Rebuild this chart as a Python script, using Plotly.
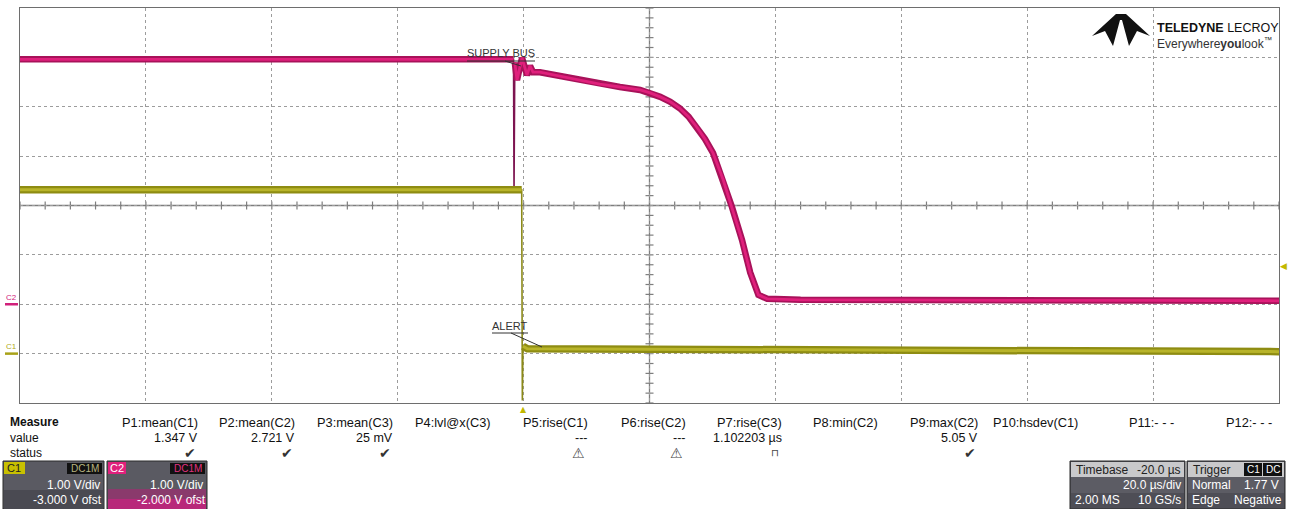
import plotly.graph_objects as go

# ---------------- data (time in µs, values in volts) ----------------
# C2 : SUPPLY BUS (1.00 V/div, -2.000 V offset)
c2_t = [-80, -60, -40, -20, -1.6, -1.52, -1.4, -1.05, -0.25, 0.54, 1.02, 1.49, 2.6, 5.8, 9.0, 12.1,
        15.3, 18.5, 20.1, 21.7, 23.3, 24.8, 26.2, 27.5, 28.8, 30.1, 31.7, 33.1, 34.7, 36.0, 37.3,
        38.7, 44.0, 60.0, 75.7, 100.0, 120.0]
c2_v = [4.96, 4.96, 4.96, 4.96, 4.96, 2.32, 4.90, 4.54, 4.99, 4.64, 4.83, 4.70, 4.70, 4.62, 4.54, 4.46,
        4.40, 4.34, 4.28, 4.20, 4.10, 3.97, 3.80, 3.59, 3.35, 3.06, 2.52, 1.97, 1.30, 0.64, 0.19,
        0.11, 0.09, 0.09, 0.08, 0.08, 0.07]
c2_spike_idx = [5]          # fast glitch sample (drawn as a thin line only)

# C1 : ALERT (1.00 V/div, -3.000 V offset)
c1_t = [-80, -40, -0.3, -0.2, -0.1, 0.05, 0.6, 20, 60, 90, 120]
c1_v = [3.32, 3.32, 3.32, -0.95, 0.15, 0.14, 0.10, 0.09, 0.07, 0.05, 0.04]
c1_edge_idx = [3]

trigger_level_v = 1.77      # on C1
trigger_time_us = 0.0

# Scope settings
time_per_div = 20.0
time_center = 20.0
c1_vdiv, c1_offset = 1.0, -3.0
c2_vdiv, c2_offset = 1.0, -2.0

# Measurement table
meas_headers = ["P1:mean(C1)", "P2:mean(C2)", "P3:mean(C3)", "P4:lvl@x(C3)", "P5:rise(C1)",
                "P6:rise(C2)", "P7:rise(C3)", "P8:min(C2)", "P9:max(C2)", "P10:hsdev(C1)",
                "P11:- - -", "P12:- - -"]
meas_values = ["1.347 V", "2.721 V", "25 mV", "", "---", "---", "1.102203 µs", "", "5.05 V", "", "", ""]
meas_status = ["✔", "✔", "✔", "", "⚠", "⚠", "⊓", "", "✔", "", "", ""]

# ---------------- layout geometry (pixels) ----------------
W, H = 1290, 509
L, R, T, B = 20, 1279, 8, 403
FONT = "Arial, Liberation Sans, sans-serif"


def PX(x):
    return (x - L) / (R - L)


def PY(y):
    return (B - y) / (B - T)


x_rng = [time_center - 5 * time_per_div, time_center + 5 * time_per_div]
c2_rng = [-c2_offset - 4 * c2_vdiv, -c2_offset + 4 * c2_vdiv]
c1_rng = [-c1_offset - 4 * c1_vdiv, -c1_offset + 4 * c1_vdiv]

fig = go.Figure()


def band(vals, skip):
    return [None if i in skip else v for i, v in enumerate(vals)]


# C2 traces
fig.add_trace(go.Scatter(x=c2_t, y=c2_v, mode="lines", line=dict(color="#7d1450", width=1.6),
                         yaxis="y", showlegend=False, hoverinfo="skip"))
fig.add_trace(go.Scatter(x=c2_t, y=band(c2_v, c2_spike_idx), mode="lines", connectgaps=False,
                         line=dict(color="#a8125a", width=6.5), yaxis="y", showlegend=False, hoverinfo="skip"))
fig.add_trace(go.Scatter(x=c2_t, y=band(c2_v, c2_spike_idx), mode="lines", connectgaps=False,
                         line=dict(color="#e0207c", width=2.8), yaxis="y", showlegend=False, hoverinfo="skip"))
# C1 traces
fig.add_trace(go.Scatter(x=c1_t, y=c1_v, mode="lines", line=dict(color="#8c8a18", width=1.6),
                         yaxis="y2", showlegend=False, hoverinfo="skip"))
fig.add_trace(go.Scatter(x=c1_t, y=band(c1_v, c1_edge_idx), mode="lines", connectgaps=False,
                         line=dict(color="#8e8c12", width=7.5), yaxis="y2", showlegend=False, hoverinfo="skip"))
fig.add_trace(go.Scatter(x=c1_t, y=band(c1_v, c1_edge_idx), mode="lines", connectgaps=False,
                         line=dict(color="#b8b42a", width=3), yaxis="y2", showlegend=False, hoverinfo="skip"))

shapes = []
annotations = []

# center crosshair with minor ticks
xc, yc = time_center, -c2_offset
shapes.append(dict(type="line", xref="x", yref="y", x0=x_rng[0], x1=x_rng[1], y0=yc, y1=yc,
                   line=dict(color="#7e7e7e", width=1.3), layer="below"))
shapes.append(dict(type="line", xref="x", yref="y", x0=xc, x1=xc, y0=c2_rng[0], y1=c2_rng[1],
                   line=dict(color="#7e7e7e", width=1.3), layer="below"))
px_per_us = (R - L) / (x_rng[1] - x_rng[0])
px_per_v = (B - T) / (c2_rng[1] - c2_rng[0])
tick_half_v = 4 / px_per_v
tick_half_us = 4 / px_per_us
for k in range(51):
    xt = x_rng[0] + k * time_per_div / 5
    shapes.append(dict(type="line", xref="x", yref="y", x0=xt, x1=xt, y0=yc - tick_half_v, y1=yc + tick_half_v,
                       line=dict(color="#7e7e7e", width=1.2), layer="below"))
for k in range(41):
    yt = c2_rng[0] + k * c2_vdiv / 5
    shapes.append(dict(type="line", xref="x", yref="y", x0=xc - tick_half_us, x1=xc + tick_half_us, y0=yt, y1=yt,
                       line=dict(color="#7e7e7e", width=1.2), layer="below"))


def line_px(x0, y0, x1, y1, color="#333", width=1):
    shapes.append(dict(type="line", xref="paper", yref="paper", x0=PX(x0), y0=PY(y0), x1=PX(x1), y1=PY(y1),
                       line=dict(color=color, width=width)))


def rect_px(x0, y0, x1, y1, fill, line="rgba(0,0,0,0)", lw=0):
    shapes.append(dict(type="rect", xref="paper", yref="paper", x0=PX(x0), y0=PY(y0), x1=PX(x1), y1=PY(y1),
                       fillcolor=fill, line=dict(color=line, width=lw), layer="above"))


def txt(x, y, s, anchor="left", size=12, color="#222", family=FONT):
    annotations.append(dict(xref="paper", yref="paper", x=PX(x), y=PY(y), text=s, showarrow=False,
                            xanchor=anchor, yanchor="middle", font=dict(family=family, size=size, color=color)))


# waveform labels
txt(501, 53, "SUPPLY BUS", anchor="center", size=11, color="#333")
line_px(467, 61, 535, 61)
line_px(505, 61, 521, 66)
txt(510, 326, "ALERT", anchor="center", size=11, color="#333")
line_px(492, 333, 528, 333)
line_px(511, 333, 542, 347)

# channel ground markers at left
c2_gnd_y = B - (0 - c2_rng[0]) * px_per_v
c1_gnd_y = B - (0 - c1_rng[0]) * px_per_v
txt(11, c2_gnd_y - 7, "C2", anchor="center", size=8, color="#d0207a")
line_px(5, c2_gnd_y, 18, c2_gnd_y, color="#d0207a", width=2.5)
txt(11, c1_gnd_y - 7, "C1", anchor="center", size=8, color="#b0aa20")
line_px(5, c1_gnd_y, 18, c1_gnd_y, color="#a8a218", width=2.5)

# trigger markers
annotations.append(dict(xref="paper", yref="y2", x=1.0, y=trigger_level_v, text="◀", showarrow=False,
                        xanchor="left", yanchor="middle", xshift=-1,
                        font=dict(family="DejaVu Sans", size=9, color="#c2b800")))
annotations.append(dict(xref="x", yref="paper", x=trigger_time_us, y=PY(409), text="▲", showarrow=False,
                        xanchor="center", yanchor="middle",
                        font=dict(family="DejaVu Sans", size=8, color="#c2b800")))

# logo
logo_pts = [(1092, 36), (1116, 14), (1126, 14), (1150, 36), (1137, 31), (1129, 46), (1122, 20),
            (1120, 20), (1113, 46), (1105, 31)]
path = "M " + " L ".join(f"{PX(x):.5f},{PY(y):.5f}" for x, y in logo_pts) + " Z"
shapes.append(dict(type="path", xref="paper", yref="paper", path=path, fillcolor="#111",
                   line=dict(color="#111", width=0)))
txt(1155, 28, "<b>TELEDYNE</b> LECROY", size=12.5, color="#111")
txt(1155, 43, "Everywhere<b>you</b>look<sup>™</sup>", size=12, color="#333")

# measurement table
txt(8, 422, "<b>Measure</b>", size=12, color="#111")
txt(8, 438, "value", size=12, color="#111")
txt(8, 453, "status", size=12, color="#111")
col_right = [200, 297, 395, 493, 590, 688, 784, 880, 980, 1080, 1176, 1274]
for xr, h, v, s in zip(col_right, meas_headers, meas_values, meas_status):
    txt(xr, 422, h, anchor="right", size=12.8, color="#111")
    if v:
        txt(xr, 438, v, anchor="right", size=12.5, color="#111")
    if s:
        if s == "✔":
            txt(xr - 2, 453, s, anchor="right", size=14, color="#333", family="DejaVu Sans")
        elif s == "⚠":
            txt(xr - 3, 453, s, anchor="right", size=14, color="#444", family="DejaVu Sans")
        else:
            txt(xr - 3, 452, s, anchor="right", size=10, color="#444", family="DejaVu Sans")

# channel descriptor boxes
# C1
rect_px(3, 461, 104, 509, "#5a5a62", "#2a2a2a", 1)
rect_px(4, 490, 103, 509, "#4a4a52")
rect_px(4, 462, 25, 474, "#c8c000")
txt(14, 468, "C1", anchor="center", size=11, color="#222")
rect_px(67, 463, 102, 474, "#111")
txt(85, 468.5, "DC1M", anchor="center", size=10, color="#b8b480")
txt(102, 485, "1.00 V/div", anchor="right", size=12, color="#fff")
txt(104, 500, "-3.000 V ofst", anchor="right", size=12, color="#fff")
# C2
rect_px(107, 461, 207, 509, "#5a5a62", "#2a2a2a", 1)
rect_px(108, 489, 206, 499, "#8a3a6c")
rect_px(108, 499, 206, 509, "#b8287a")
rect_px(108, 462, 126, 474, "#e0207c")
txt(117, 468, "C2", anchor="center", size=11, color="#fff")
rect_px(170, 463, 205, 474, "#111")
txt(188, 468.5, "DC1M", anchor="center", size=10, color="#e0307f")
txt(205, 485, "1.00 V/div", anchor="right", size=12, color="#fff")
txt(208, 500, "-2.000 V ofst", anchor="right", size=12, color="#fff")

# timebase box
rect_px(1070, 461, 1185, 509, "#4e4e56", "#2a2a2a", 1)
rect_px(1071, 462, 1184, 477, "#c9c9cb")
rect_px(1071, 477, 1184, 493, "#5c5c64")
txt(1074, 470, "Timebase", size=12, color="#222")
txt(1183, 470, "-20.0 µs", anchor="right", size=12, color="#222")
txt(1183, 485, "20.0 µs/div", anchor="right", size=12, color="#fff")
txt(1073, 500, "2.00 MS", size=12, color="#fff")
txt(1183, 500, "10 GS/s", anchor="right", size=12, color="#fff")
# trigger box
rect_px(1187, 461, 1285, 509, "#4e4e56", "#2a2a2a", 1)
rect_px(1188, 462, 1284, 477, "#c9c9cb")
rect_px(1188, 477, 1284, 493, "#5c5c64")
txt(1191, 470, "Trigger", size=12, color="#222")
rect_px(1244, 463, 1262, 476, "#111")
txt(1253, 469.5, "C1", anchor="center", size=10, color="#fff")
rect_px(1263, 463, 1282, 476, "#111")
txt(1272.5, 469.5, "DC", anchor="center", size=10, color="#fff")
txt(1190, 485, "Normal", size=12, color="#fff")
txt(1281, 485, "1.77 V", anchor="right", size=12, color="#fff")
txt(1190, 500, "Edge", size=12, color="#fff")
txt(1284, 500, "Negative", anchor="right", size=12, color="#fff")

fig.update_layout(
    width=W, height=H,
    margin=dict(l=L, r=W - R, t=T, b=H - B),
    paper_bgcolor="white", plot_bgcolor="white",
    showlegend=False,
    xaxis=dict(range=x_rng, tick0=0, dtick=time_per_div, showticklabels=False, ticks="",
               showgrid=True, gridcolor="#9c9c9c", griddash="dot", gridwidth=1,
               zeroline=False, showline=True, mirror=True, linecolor="#6e6e6e", linewidth=1,
               fixedrange=True),
    yaxis=dict(range=c2_rng, tick0=0, dtick=c2_vdiv, showticklabels=False, ticks="",
               showgrid=True, gridcolor="#9c9c9c", griddash="dot", gridwidth=1,
               zeroline=False, showline=True, mirror=True, linecolor="#6e6e6e", linewidth=1,
               fixedrange=True),
    yaxis2=dict(range=c1_rng, overlaying="y", visible=False, fixedrange=True),
    shapes=shapes,
    annotations=annotations,
)

fig.write_html("out.html", config={"displayModeBar": False},
               post_script="document.body.style.margin='0';document.body.style.overflow='hidden';")
